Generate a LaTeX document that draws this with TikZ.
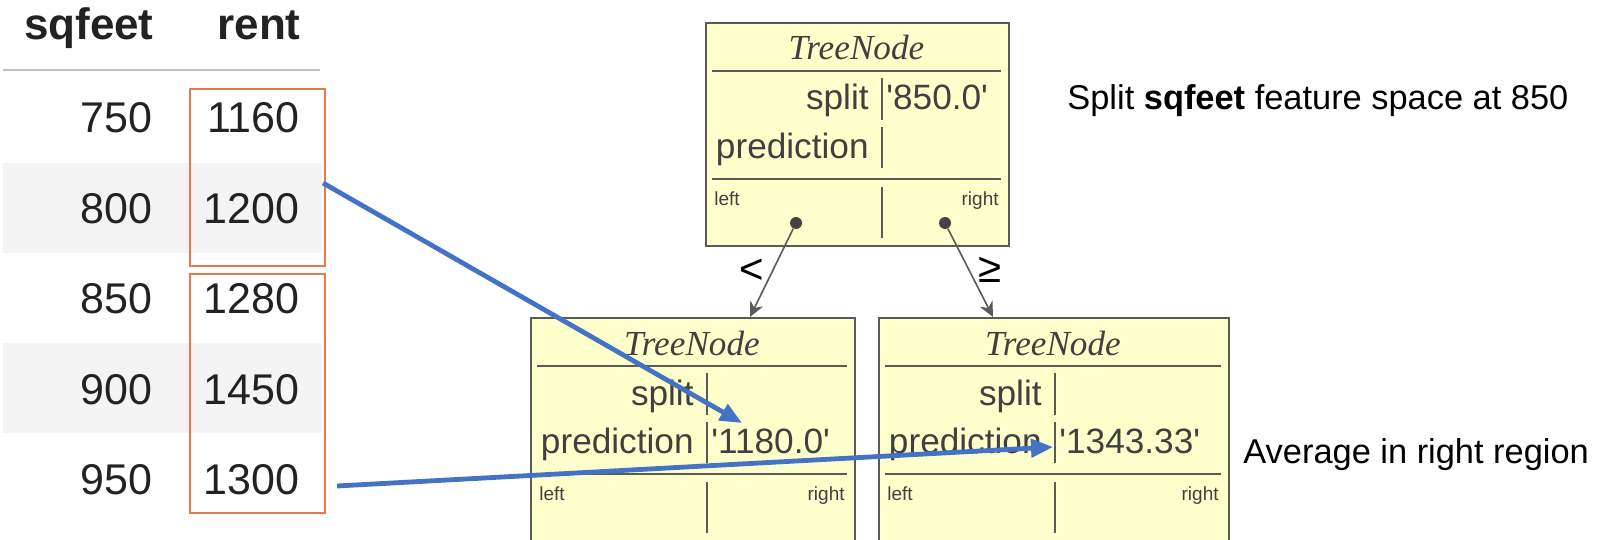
\documentclass[tikz,border=0pt]{standalone}
\usepackage{fontspec}
\setmainfont{Liberation Sans}
\newfontfamily\tnserif{Liberation Serif}
\usetikzlibrary{arrows.meta,calc}
\definecolor{tnfill}{HTML}{FFFFCC}
\definecolor{tnedge}{HTML}{5A5A5A}
\definecolor{tntext}{HTML}{404040}
\definecolor{tndotc}{HTML}{444444}
\definecolor{orng}{HTML}{E8794F}
\definecolor{blu}{HTML}{4472C4}
\definecolor{stripe}{HTML}{F4F4F4}
\definecolor{rulegray}{HTML}{BDBDBD}
\definecolor{tbltext}{HTML}{222222}
\newcommand{\tnode}[7]{%
\node[tnbox, anchor=north west, minimum width=#4*0.5pt, minimum height=#7*0.5pt] (#1) at (#2,#3) {};
\node[tntitle, anchor=base] (#1-title) at ({#2+#4/2},{#3+38}) {TreeNode};
\draw[tnline] ({#2+7},{#3+49}) -- ({#2+#4-7},{#3+49});
\node[tnfield, anchor=base east] (#1-splitk) at ({#2+164},{#3+88}) {split};
\node[tnfield, anchor=base east] (#1-predk) at ({#2+164},{#3+136}) {prediction};
\draw[tnline] ({#2+177},{#3+56}) -- ({#2+177},{#3+98});
\draw[tnline] ({#2+177},{#3+105}) -- ({#2+177},{#3+146});
\node[tnfield, anchor=base west] (#1-splitv) at ({#2+181},{#3+88}) {#5};
\node[tnfield, anchor=base west] (#1-predv) at ({#2+181},{#3+136}) {#6};
\draw[tnline] ({#2+7},{#3+157}) -- ({#2+#4-7},{#3+157});
\node[tnsmall, anchor=base west] (#1-left) at ({#2+9},{#3+183}) {left};
\node[tnsmall, anchor=base east] (#1-right) at ({#2+#4-9},{#3+183}) {right};
\draw[tnline] ({#2+177},{#3+165}) -- ({#2+177},{#3+216});
}
\begin{document}
\begin{tikzpicture}[x=0.5pt,y=-0.5pt,
  tnbox/.style={draw=tnedge, fill=tnfill, line width=1pt, inner sep=0},
  tntitle/.style={font=\tnserif\itshape\fontsize{17.6pt}{20pt}\selectfont, text=tntext, inner sep=0},
  tnfield/.style={font=\fontsize{17.6pt}{20pt}\selectfont, text=tntext, inner sep=0},
  tnsmall/.style={font=\fontsize{9.5pt}{11pt}\selectfont, text=tntext, inner sep=0},
  tnline/.style={draw=tnedge, line width=0.75pt},
  tndot/.style={circle, fill=tndotc, minimum size=6pt, inner sep=0},
  tree/.style={draw=tnedge, line width=0.8pt, -{Stealth[length=7.5pt,width=7pt]}},
  cell/.style={font=\fontsize{21.5pt}{24pt}\selectfont, text=tbltext, inner sep=0, anchor=base east},
  head/.style={font=\bfseries\fontsize{22pt}{26pt}\selectfont, text=tbltext, inner sep=0, anchor=base east},
  obox/.style={draw=orng, line width=1pt, inner sep=0, anchor=north west},
  barrow/.style={draw=blu, line width=2.4pt, -{Triangle[length=11pt,width=9pt]}},
  note/.style={font=\fontsize{17.2pt}{20pt}\selectfont, inner sep=0, anchor=base west},
  cmp/.style={font=\fontsize{21pt}{24pt}\selectfont, text=black, inner sep=0}]
\useasboundingbox (0,0) rectangle (1600,540);
% table
\fill[stripe] (3,163) rectangle (322,253);
\fill[stripe] (3,343) rectangle (322,433);
\draw[rulegray, line width=1pt] (3,70) -- (320,70);
\node[head] (h1) at (154,40) {sqfeet};
\node[head] (h2) at (301,40) {rent};
\node[cell] (s1) at (153,133) {750};
\node[cell] (r1) at (300,133) {1160};
\node[cell] (s2) at (153,223) {800};
\node[cell] (r2) at (300,223) {1200};
\node[cell] (s3) at (153,313) {850};
\node[cell] (r3) at (300,313) {1280};
\node[cell] (s4) at (153,404) {900};
\node[cell] (r4) at (300,404) {1450};
\node[cell] (s5) at (153,494) {950};
\node[cell] (r5) at (300,494) {1300};
\node[obox, minimum width=135*0.5pt, minimum height=177*0.5pt] (grpA) at (189,88) {};
\node[obox, minimum width=135*0.5pt, minimum height=239*0.5pt] (grpB) at (189,273) {};
% tree
\tnode{root}{705}{22}{303}{\textquotesingle 850.0\textquotesingle}{}{223}
\tnode{tnL}{530}{317}{324}{}{\textquotesingle 1180.0\textquotesingle}{232}
\tnode{tnR}{878}{317}{350}{}{\textquotesingle 1343.33\textquotesingle}{232}
\node[tndot] (root-dl) at (796,223) {};
\node[tndot] (root-dr) at (945,223) {};
\coordinate (tnL-in) at (750,317);
\coordinate (tnR-in) at (993,317);
\draw[tree] (root-dl) -- (tnL-in);
\draw[tree] (root-dr) -- (tnR-in);
\node[cmp] (lt) at (752,271) {<};
\node[cmp] (ge) at (990,270) {≥};
% blue arrows
\coordinate (a1s) at (323,183);
\coordinate (a1e) at (742,423);
\coordinate (a2s) at (337,486);
\coordinate (a2e) at (1053,447);
\draw[barrow] (a1s) -- (a1e);
\draw[barrow] (a2s) -- (a2e);
% notes
\node[note] (note1) at (1067,110) {Split \textbf{sqfeet} feature space at 850};
\node[note] (note2) at (1243,463) {Average in right region};
\end{tikzpicture}
\end{document}
